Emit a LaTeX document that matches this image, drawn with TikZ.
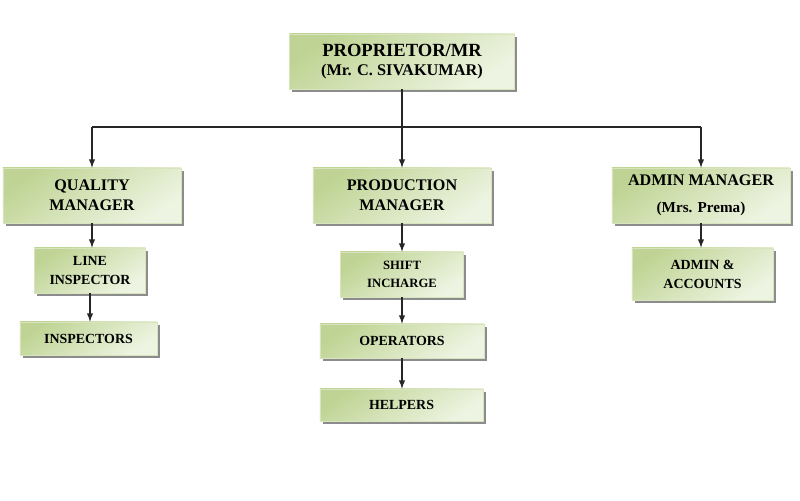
\documentclass[tikz,border=0pt]{standalone}
\usepackage{fontspec}
\setmainfont{Liberation Serif}
\usetikzlibrary{shadows}
\definecolor{boxtop}{HTML}{BFD494}
\definecolor{boxbot}{HTML}{EEF4E2}
\definecolor{boxedge}{HTML}{D7E4BD}
\begin{document}
\begin{tikzpicture}[x=0.025cm,y=0.025cm,
    post/.style={draw=boxedge, line width=0.5pt, top color=boxtop, bottom color=boxbot, shading angle=35,
        drop shadow={shadow xshift=2pt, shadow yshift=-2pt, fill=black!45, opacity=1},
        align=center, inner sep=0pt, font=\bfseries},
    bigpost/.style={post, minimum width=4.45cm, minimum height=1.375cm, font=\bfseries\fontsize{11.5}{14.5}\selectfont},
    smallpost/.style={post, font=\bfseries\fontsize{9.9}{13.5}\selectfont},
    link/.style={-latex, line width=1pt, draw=black!85}]
            \useasboundingbox (0,0) rectangle (800,500);
            % top
            \node[post, minimum width=5.625cm, minimum height=1.375cm] (prop) at (402,438.5)
                {\fontsize{13.2}{16}\selectfont PROPRIETOR/MR\\[1pt]\fontsize{11.6}{14}\selectfont (Mr. C. SIVAKUMAR)};
            % managers
            \node[bigpost] (qm) at (92,304.5) {QUALITY\\MANAGER};
            \node[bigpost] (pm) at (402,304.5) {PRODUCTION\\MANAGER};
            \node[bigpost] (am) at (701,304.5) {ADMIN MANAGER\\[5pt]\fontsize{10.8}{13}\selectfont (Mrs. Prema)};
            % staff
            \node[smallpost, minimum width=2.775cm, minimum height=1.125cm] (li) at (90,229.5) {LINE\\INSPECTOR};
            \node[smallpost, minimum width=3.425cm, minimum height=0.825cm] (insp) at (88.5,161.5) {INSPECTORS};
            \node[smallpost, minimum width=3.075cm, minimum height=1.125cm, font=\bfseries\fontsize{9}{12.5}\selectfont] (si) at (402,225.5) {SHIFT\\INCHARGE};
            \node[smallpost, minimum width=4.1cm, minimum height=0.85cm] (ops) at (402,159) {OPERATORS};
            \node[smallpost, minimum width=4.075cm, minimum height=0.8cm] (help) at (401.5,95) {HELPERS};
            \node[smallpost, minimum width=3.525cm, minimum height=1.3cm] (aa) at (702.5,226) {ADMIN \&\\ACCOUNTS};
            % links
            \coordinate (bus) at (prop.south |- 0,373);
            \draw[line width=1pt, draw=black!85] (qm.north |- bus) -- (am.north |- bus);
            \draw[link] (prop.south) -- (pm.north);
            \draw[link] (qm.north |- bus) -- (qm.north);
            \draw[link] (am.north |- bus) -- (am.north);
            \draw[link] (qm.south) -- (qm.south |- li.north);
            \draw[link] (li.south) -- (li.south |- insp.north);
            \draw[link] (pm.south) -- (pm.south |- si.north);
            \draw[link] (si.south) -- (si.south |- ops.north);
            \draw[link] (ops.south) -- (ops.south |- help.north);
            \draw[link] (am.south) -- (am.south |- aa.north);
        \end{tikzpicture}
\end{document}
